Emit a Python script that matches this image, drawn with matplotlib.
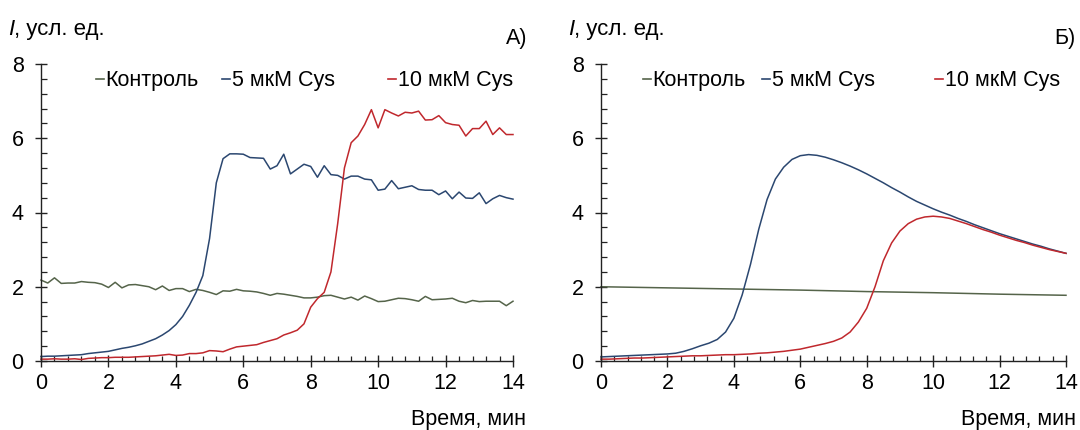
import numpy as np
import matplotlib
matplotlib.use("Agg")
import matplotlib.pyplot as plt
from matplotlib.lines import Line2D
from matplotlib.legend import Legend
from matplotlib.ticker import MultipleLocator

plt.rcParams['font.family'] = ['Liberation Sans', 'DejaVu Sans']

# ---------------- data ----------------
series_labels = ["Контроль", "5 мкМ Cys", "10 мкМ Cys"]
x_ticks = [0, 2, 4, 6, 8, 10, 12, 14]
y_ticks = [0, 2, 4, 6, 8]

# Panel A: time step 0.2 min
time_a = [round(0.2 * i, 1) for i in range(71)]
control_a = [2.18, 2.10, 2.24, 2.09, 2.10, 2.10, 2.14, 2.12, 2.11, 2.07,
             1.98, 2.12, 1.97, 2.05, 2.06, 2.03, 2.00, 1.92, 2.02, 1.90,
             1.95, 1.95, 1.87, 1.93, 1.90, 1.85, 1.79, 1.89, 1.88, 1.93,
             1.89, 1.88, 1.86, 1.82, 1.77, 1.82, 1.80, 1.77, 1.74, 1.70,
             1.70, 1.72, 1.76, 1.77, 1.72, 1.67, 1.72, 1.64, 1.75, 1.68,
             1.60, 1.61, 1.65, 1.69, 1.68, 1.65, 1.61, 1.74, 1.65, 1.66,
             1.67, 1.69, 1.61, 1.57, 1.63, 1.60, 1.61, 1.61, 1.61, 1.49,
             1.61]
cys5_a = [0.12, 0.13, 0.13, 0.14, 0.15, 0.16, 0.17, 0.20, 0.22, 0.24,
          0.26, 0.30, 0.34, 0.37, 0.41, 0.46, 0.53, 0.60, 0.70, 0.82,
          0.98, 1.20, 1.50, 1.85, 2.30, 3.30, 4.80, 5.45, 5.58, 5.58,
          5.57, 5.48, 5.47, 5.46, 5.17, 5.26, 5.57, 5.04, 5.17, 5.30,
          5.24, 4.95, 5.26, 5.02, 5.00, 4.90, 4.98, 4.98, 4.90, 4.88,
          4.60, 4.63, 4.86, 4.64, 4.68, 4.72, 4.62, 4.60, 4.60, 4.48,
          4.58, 4.37, 4.55, 4.39, 4.38, 4.53, 4.24, 4.37, 4.46, 4.40,
          4.36]
cys10_a = [0.05, 0.05, 0.06, 0.05, 0.05, 0.06, 0.04, 0.07, 0.08, 0.09,
           0.09, 0.10, 0.10, 0.10, 0.11, 0.12, 0.13, 0.14, 0.16, 0.18,
           0.15, 0.16, 0.20, 0.20, 0.22, 0.28, 0.27, 0.25, 0.32, 0.38,
           0.40, 0.42, 0.44, 0.50, 0.55, 0.60, 0.70, 0.76, 0.83, 1.00,
           1.45, 1.68, 1.85, 2.40, 3.70, 5.20, 5.88, 6.06, 6.37, 6.77,
           6.28, 6.77, 6.68, 6.60, 6.70, 6.68, 6.73, 6.49, 6.50, 6.61,
           6.42, 6.37, 6.35, 6.06, 6.26, 6.26, 6.46, 6.10, 6.28, 6.10,
           6.10]

# Panel B: time step 0.25 min (model curves)
time_b = [0.25 * i for i in range(57)]
cys5_b = [0.11, 0.12, 0.13, 0.14, 0.15, 0.16, 0.17, 0.18, 0.19, 0.21,
          0.26, 0.33, 0.41, 0.48, 0.58, 0.78, 1.15, 1.78, 2.60, 3.55,
          4.35, 4.90, 5.22, 5.43, 5.53, 5.56, 5.54, 5.49, 5.42, 5.34,
          5.25, 5.15, 5.04, 4.92, 4.80, 4.67, 4.55, 4.42, 4.30, 4.20,
          4.10, 4.01, 3.93, 3.84, 3.76, 3.67, 3.59, 3.51, 3.43, 3.36,
          3.29, 3.22, 3.15, 3.09, 3.02, 2.96, 2.90]
cys10_b = [0.05, 0.05, 0.06, 0.07, 0.08, 0.08, 0.09, 0.10, 0.11, 0.12,
           0.13, 0.14, 0.14, 0.15, 0.16, 0.17, 0.17, 0.18, 0.19, 0.21,
           0.22, 0.24, 0.26, 0.29, 0.32, 0.37, 0.42, 0.47, 0.53, 0.62,
           0.78, 1.05, 1.42, 2.00, 2.70, 3.18, 3.50, 3.70, 3.82, 3.88,
           3.90, 3.88, 3.84, 3.77, 3.70, 3.62, 3.54, 3.47, 3.39, 3.32,
           3.25, 3.19, 3.12, 3.06, 3.00, 2.95, 2.90]
time_b_control = [0, 2, 4, 6, 8, 10, 12, 14]
control_b = [2.00, 1.97, 1.94, 1.91, 1.87, 1.84, 1.80, 1.77]

colors = ["#55644a", "#2b4770", "#c0282d"]

W, H = 1080, 430
fig = plt.figure(figsize=(W / 100, H / 100), dpi=100)
Y0, Y8 = 361, 64
AX = {"A": (41, 513), "B": (601, 1066)}
ax_a = fig.add_axes([AX["A"][0] / W, 1 - Y0 / H, (AX["A"][1] - AX["A"][0]) / W, (Y0 - Y8) / H])
ax_b = fig.add_axes([AX["B"][0] / W, 1 - Y0 / H, (AX["B"][1] - AX["B"][0]) / W, (Y0 - Y8) / H])

FS = 15.5
ptx = 72 / 100  # points per pixel


def style(ax, key, letter, leg_px):
    x0, x1 = AX[key]
    ax.set_xlim(0, 14)
    ax.set_ylim(0, 8)
    for s in ("top", "right"):
        ax.spines[s].set_visible(False)
    for s in ("left", "bottom"):
        ax.spines[s].set_linewidth(1.0)
        ax.spines[s].set_color("#222222")
    ax.set_xticks(x_ticks)
    ax.set_yticks(y_ticks)
    ax.xaxis.set_minor_locator(MultipleLocator(0.4))
    ax.yaxis.set_minor_locator(MultipleLocator(0.4))
    ax.tick_params(axis="x", which="major", direction="inout", length=9,
                   width=1.0, labelsize=FS, pad=4, color="#222222")
    ax.tick_params(axis="x", which="minor", direction="in", length=3.5,
                   width=0.9, color="#222222")
    ax.tick_params(axis="y", which="major", direction="inout", length=9,
                   width=1.0, labelsize=FS, pad=8, color="#222222")
    ax.tick_params(axis="y", which="minor", direction="in", length=4,
                   width=0.9, color="#222222")
    # axis titles (pixel offsets from axes corners)
    t1 = ax.annotate("I", xy=(0, 1), xycoords="axes fraction",
                     xytext=(-33 * ptx, 29 * ptx), textcoords="offset points",
                     fontsize=16, style="italic", ha="left", va="baseline")
    ax.annotate(", усл. ед.", xy=(1, 0), xycoords=t1, fontsize=16,
                ha="left", va="bottom")
    ax.annotate(letter, xy=(1, 1), xycoords="axes fraction",
                xytext=(min(14, W - 4 - x1) * ptx, 20 * ptx),
                textcoords="offset points",
                fontsize=FS, ha="right", va="baseline")
    ax.annotate("Время, мин", xy=(1, 0), xycoords="axes fraction",
                xytext=(min(13, W - 4 - x1) * ptx, -64 * ptx),
                textcoords="offset points",
                fontsize=FS, ha="right", va="baseline")
    for i, (lab, c) in enumerate(zip(series_labels, colors)):
        h = Line2D([], [], color=c, lw=1.2)
        leg = Legend(ax, [h], [lab], frameon=False, loc="center left",
                     bbox_to_anchor=((leg_px[i] - x0) / (x1 - x0), 0.943),
                     handlelength=0.35, handletextpad=0.1,
                     borderpad=0, borderaxespad=0, fontsize=FS)
        ax.add_artist(leg)


ax_a.plot(time_a, control_a, color=colors[0], lw=1.1, clip_on=False)
ax_a.plot(time_a, cys5_a, color=colors[1], lw=1.1, clip_on=False)
ax_a.plot(time_a, cys10_a, color=colors[2], lw=1.1, clip_on=False)
style(ax_a, "A", "А)", [96, 222, 388])

ax_b.plot(time_b_control, control_b, color=colors[0], lw=1.1, clip_on=False)
ax_b.plot(time_b, cys5_b, color=colors[1], lw=1.1, clip_on=False)
ax_b.plot(time_b, cys10_b, color=colors[2], lw=1.1, clip_on=False)
style(ax_b, "B", "Б)", [643, 762, 935])

fig.savefig("out.png", dpi=100)
